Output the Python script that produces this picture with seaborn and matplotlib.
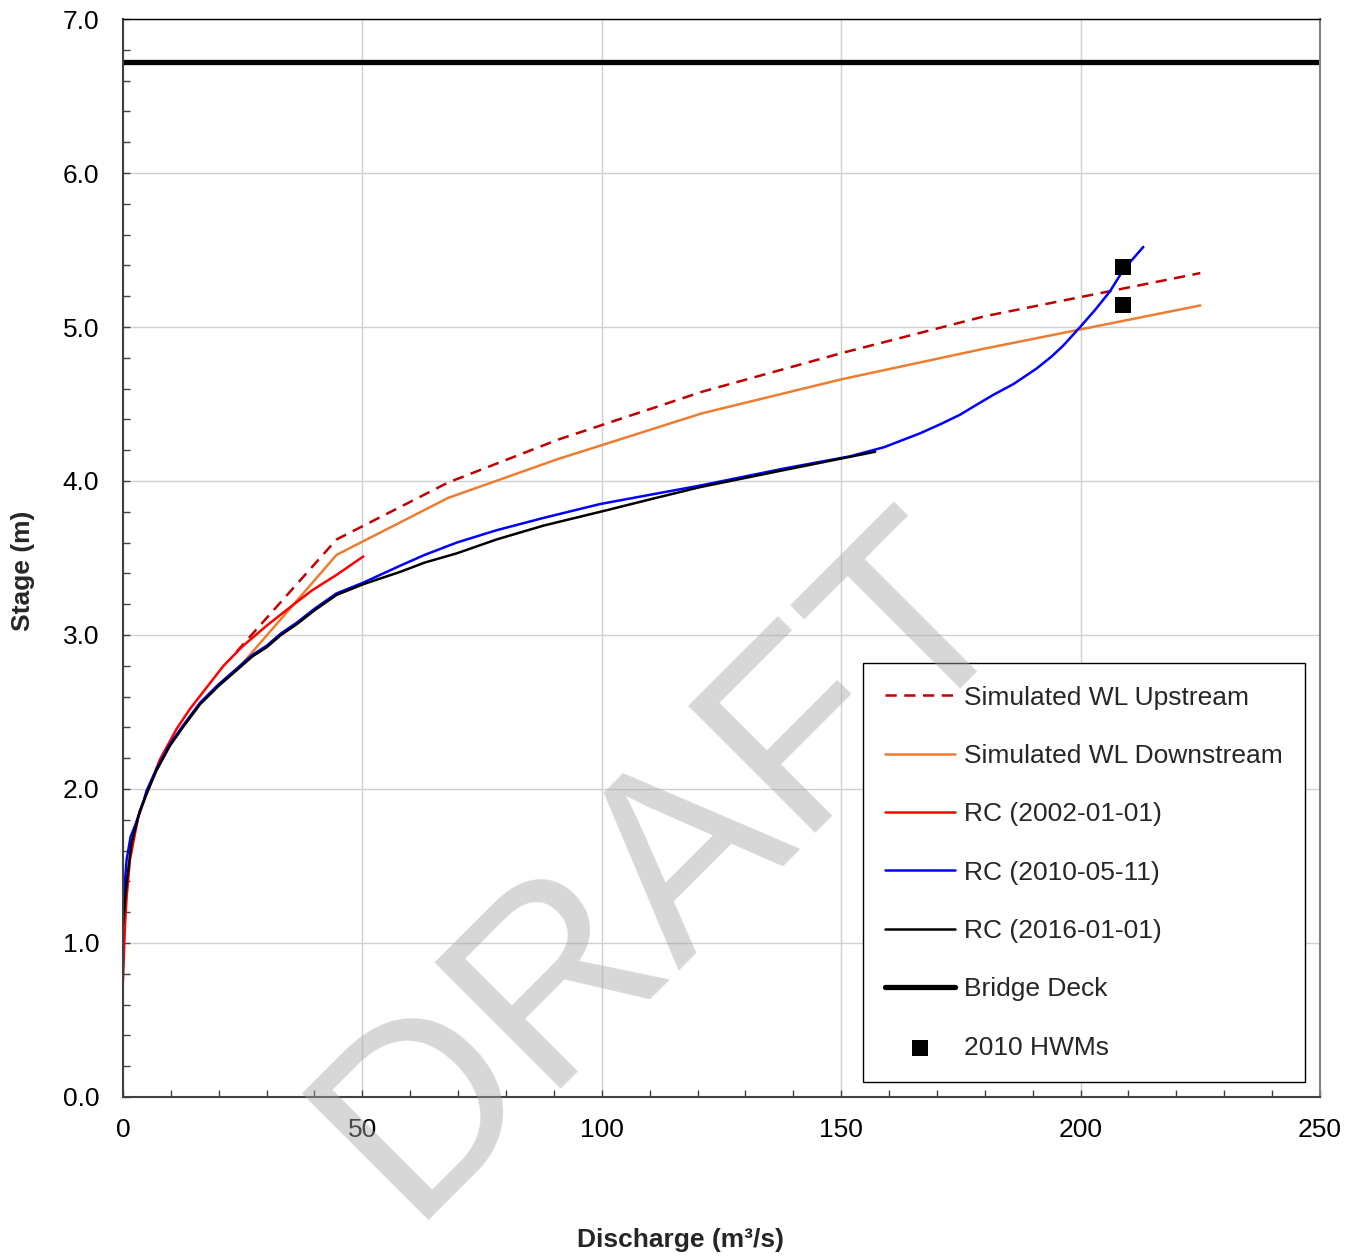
import matplotlib
matplotlib.use("Agg")
import matplotlib.pyplot as plt
import seaborn as sns
from matplotlib.ticker import MultipleLocator

# Simulated water levels
up_q = [23.7, 44.6, 67.9, 91.0, 121.0, 150.0, 180.0, 225.0]
up_wl = [2.89, 3.62, 3.99, 4.27, 4.58, 4.83, 5.07, 5.35]
down_q = [23.7, 44.6, 67.9, 90.6, 121.0, 150.0, 180.0, 225.0]
down_wl = [2.77, 3.52, 3.89, 4.14, 4.44, 4.66, 4.86, 5.14]

# Rating curves
rc2002_q = [0.0, 0.42, 0.77, 1.46, 2.2, 3.2, 4.95, 7.7, 11.2, 14.0, 17.5, 21.0, 25.1,
            30.0, 34.9, 39.5, 44.6, 50.2]
rc2002_h = [0.75, 1.11, 1.30, 1.54, 1.66, 1.82, 1.97, 2.19, 2.39, 2.52, 2.66, 2.80, 2.93,
            3.06, 3.18, 3.29, 3.39, 3.51]

rc2010_q = [0.0, 0.77, 1.6, 2.5, 4.2, 4.95, 7.0, 9.8, 12.5, 16.1, 20.0, 23.7, 27.0, 30.0,
            33.0, 36.3, 40.0, 44.6, 50.2, 57.9, 63.0, 69.7, 78.0, 87.8, 99.6, 110.0,
            120.5, 137.9, 151.8, 159.0, 166.5, 170.8, 174.8, 178.0, 181.8, 186.0, 190.8,
            194.0, 196.4, 199.9, 203.0, 206.1, 208.9, 213.1]
rc2010_h = [1.24, 1.54, 1.69, 1.76, 1.91, 1.99, 2.13, 2.29, 2.41, 2.56, 2.68, 2.78, 2.87, 2.93,
            3.01, 3.08, 3.17, 3.27, 3.34, 3.45, 3.52, 3.60, 3.68, 3.76, 3.85, 3.91,
            3.97, 4.08, 4.16, 4.22, 4.31, 4.37, 4.43, 4.49, 4.56, 4.63, 4.73,
            4.81, 4.88, 5.00, 5.11, 5.23, 5.37, 5.52]

rc2016_q = [0.0, 0.77, 1.8, 3.55, 4.95, 7.0, 9.8, 12.5, 16.1, 20.0, 23.7, 27.0, 30.0, 33.0,
            36.3, 40.0, 44.6, 50.2, 57.9, 63.0, 69.7, 78.0, 87.8, 101.0, 110.0, 120.5,
            137.9, 157.1]
rc2016_h = [1.12, 1.39, 1.65, 1.86, 1.97, 2.12, 2.28, 2.40, 2.55, 2.67, 2.77, 2.86, 2.92, 3.00,
            3.07, 3.16, 3.26, 3.33, 3.41, 3.47, 3.53, 3.62, 3.71, 3.81, 3.88, 3.96,
            4.07, 4.19]

deck_q = [0, 250]
deck_h = [6.72, 6.72]

hwm_q = [208.9, 208.9]
hwm_h = [5.39, 5.14]

sns.set_style("white")
plt.rcParams['font.family'] = ['Liberation Sans', 'DejaVu Sans']

fig = plt.figure(figsize=(13.6, 12.6), dpi=100)
ax = fig.add_axes([0.0904, 0.1294, 0.8802, 0.8555])

lw = 1.8
sns.lineplot(x=up_q, y=up_wl, sort=False, estimator=None, color='#C00000',
             linewidth=lw, linestyle=(0, (4.5, 3)), label='Simulated WL Upstream', ax=ax)
sns.lineplot(x=down_q, y=down_wl, sort=False, estimator=None, color='#ED7D31',
             linewidth=lw, label='Simulated WL Downstream', ax=ax)
sns.lineplot(x=rc2002_q, y=rc2002_h, sort=False, estimator=None, color='#FF0000',
             linewidth=lw, label='RC (2002-01-01)', ax=ax)
sns.lineplot(x=rc2010_q, y=rc2010_h, sort=False, estimator=None, color='#0000FF',
             linewidth=lw, label='RC (2010-05-11)', ax=ax)
sns.lineplot(x=rc2016_q, y=rc2016_h, sort=False, estimator=None, color='black',
             linewidth=lw, label='RC (2016-01-01)', ax=ax)
sns.lineplot(x=deck_q, y=deck_h, sort=False, estimator=None, color='black',
             linewidth=3.8, label='Bridge Deck', ax=ax)
sns.scatterplot(x=hwm_q, y=hwm_h, marker='s', s=120, color='black', linewidth=0,
                label='2010 HWMs', ax=ax, zorder=5)

ax.set_xlim(0, 250)
ax.set_ylim(0, 7)
ax.xaxis.set_major_locator(MultipleLocator(50))
ax.xaxis.set_minor_locator(MultipleLocator(10))
ax.yaxis.set_major_locator(MultipleLocator(1.0))
ax.yaxis.set_minor_locator(MultipleLocator(0.2))
ax.yaxis.set_major_formatter(matplotlib.ticker.FormatStrFormatter('%.1f'))
ax.grid(True, which='major', color='#D0D0D0', linewidth=1)
ax.set_axisbelow(True)
ax.tick_params(which='both', direction='in', length=5, width=1, color='#404040',
               labelsize=19, labelcolor='black')
ax.tick_params(axis='y', which='major', pad=17)
ax.tick_params(axis='x', which='major', pad=15)
ax.tick_params(which='both', left=True, bottom=True)

for side in ['left', 'bottom']:
    ax.spines[side].set_color('#404040')
    ax.spines[side].set_linewidth(1.5)
ax.spines['top'].set_color('black')
ax.spines['top'].set_linewidth(1)
ax.spines['right'].set_color('#808080')
ax.spines['right'].set_linewidth(1.5)

ax.set_xlabel('Discharge (m³/s)', fontsize=19, fontweight='bold')
ax.set_ylabel('Stage (m)', fontsize=19, fontweight='bold')
ax.xaxis.set_label_coords(0.466, -0.1215)
ax.yaxis.set_label_coords(-0.0735, 0.488)

leg = ax.legend(loc='lower right', bbox_to_anchor=(0.9875, 0.0139), borderaxespad=0,
                fontsize=19, frameon=True, fancybox=False, framealpha=1,
                edgecolor='black', labelspacing=1.3, handlelength=2.65,
                handletextpad=0.32, borderpad=0.85)
leg.get_frame().set_linewidth(1)

fig.text(666 / 1360, 1 - 866 / 1260, 'DRAFT', rotation=45, fontsize=187,
         color='#A6A6A6', alpha=0.45, ha='center', va='center',
         rotation_mode='anchor', zorder=10)

fig.savefig('out.png', dpi=100)
